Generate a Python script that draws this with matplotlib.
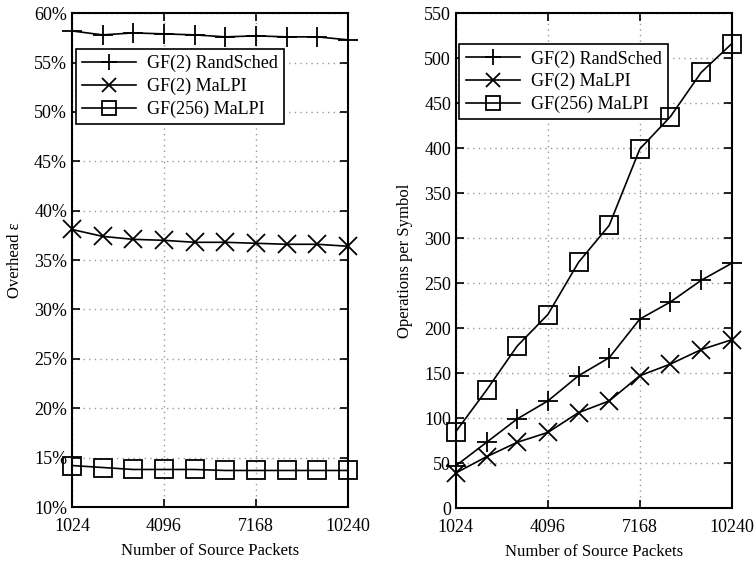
import numpy as np
import matplotlib
matplotlib.use('Agg')
import matplotlib.pyplot as plt
from matplotlib.ticker import FuncFormatter

plt.rcParams['font.family'] = 'Liberation Serif'
plt.rcParams['font.size'] = 13
plt.rcParams['axes.linewidth'] = 1.5

# source block sizes
packets = [1024, 2048, 3072, 4096, 5120, 6144, 7168, 8192, 9216, 10240]
xticks = [1024, 4096, 7168, 10240]

# overhead (%)
ovh_gf2_rand = [58.2, 57.8, 58.0, 57.9, 57.8, 57.6, 57.7, 57.6, 57.6, 57.3]
ovh_gf2_malpi = [38.1, 37.4, 37.1, 37.0, 36.8, 36.8, 36.7, 36.6, 36.6, 36.4]
ovh_gf256_malpi = [14.2, 14.0, 13.8, 13.8, 13.8, 13.7, 13.7, 13.7, 13.7, 13.7]

# operations per symbol
ops_gf2_rand = [47, 73, 99, 119, 147, 167, 210, 229, 253, 272]
ops_gf2_malpi = [39, 57, 73, 84, 106, 119, 147, 160, 176, 187]
ops_gf256_malpi = [85, 131, 180, 215, 273, 314, 399, 435, 484, 516]

labels = ['GF(2) RandSched', 'GF(2) MaLPI', 'GF(256) MaLPI']
markers = ['+', 'x', 's']
msizes = [14, 13, 13]

fig = plt.figure(figsize=(7.56, 5.67), dpi=100)
ax1 = fig.add_axes([0.0952, 0.1058, 0.365, 0.871])
ax2 = fig.add_axes([0.603, 0.1040, 0.365, 0.873])


def style(ax, yticks):
    ax.set_xlim(1024, 10240)
    ax.set_xticks(xticks)
    ax.set_xticklabels([str(t) for t in xticks])
    ax.set_yticks(yticks)
    ax.grid(True, color='#999999', linestyle=(0, (1, 3)), linewidth=1)
    ax.tick_params(direction='in', length=6, width=1.2, top=True, right=True, labelsize=13)
    ax.tick_params(axis='x', pad=8)
    ax.set_xlabel('Number of Source Packets', fontsize=12, labelpad=6)
    for s in ax.spines.values():
        s.set_zorder(5)


def add_legend(ax, top):
    leg = ax.legend(loc='upper left', bbox_to_anchor=(0.0, top), fancybox=False,
                    edgecolor='black', framealpha=1, fontsize=13, handlelength=3,
                    numpoints=1, markerscale=0.8, borderpad=0.35, labelspacing=0.3,
                    handletextpad=0.6, borderaxespad=0.2)
    leg.get_frame().set_linewidth(1.2)
    return leg


series1 = [ovh_gf2_rand, ovh_gf2_malpi, ovh_gf256_malpi]
for y, lab, m, ms in zip(series1, labels, markers, msizes):
    ax1.plot(packets, y, color='black', lw=1.2, marker=m, markersize=ms,
             markerfacecolor='none', markeredgewidth=1.3, label=lab, clip_on=False, zorder=6)
style(ax1, np.arange(10, 61, 5))
ax1.set_ylim(10, 60)
ax1.yaxis.set_major_formatter(FuncFormatter(lambda v, p: '%d%%' % v))
ax1.set_ylabel('Overhead ε', fontsize=12, labelpad=8)
add_legend(ax1, 0.935)

series2 = [ops_gf2_rand, ops_gf2_malpi, ops_gf256_malpi]
for y, lab, m, ms in zip(series2, labels, markers, msizes):
    ax2.plot(packets, y, color='black', lw=1.2, marker=m, markersize=ms,
             markerfacecolor='none', markeredgewidth=1.3, label=lab, clip_on=False, zorder=6)
style(ax2, np.arange(0, 551, 50))
ax2.set_ylim(0, 550)
ax2.set_ylabel('Operations per Symbol', fontsize=12, labelpad=8)
add_legend(ax2, 0.945)

fig.savefig('out.png', dpi=100)
